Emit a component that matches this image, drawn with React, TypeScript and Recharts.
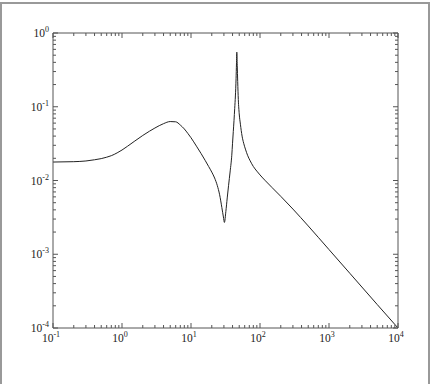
import { LineChart, Line, XAxis, YAxis } from 'recharts'

// frequência (eixo x, log) e amplitude da resposta (eixo y, log)
const freq = [
  0.1, 0.2, 0.3, 0.4, 0.5, 0.6, 0.7, 0.85, 1, 1.2, 1.5, 2, 2.5, 3, 4, 5, 6, 7, 8,
  9, 10, 12, 14, 16, 18, 20, 22, 24, 26, 28, 29.5, 30.5, 32, 33.5, 35, 37, 39, 40,
  41, 42, 43, 44, 45, 45.6, 46.1, 46.8, 47.5, 48.5, 50, 52, 55, 58, 62, 66, 72,
  80, 90, 100, 120, 150, 200, 300, 500, 1000, 2000, 5000, 10000,
]
const amplitude = [
  0.0178, 0.018, 0.0184, 0.0191, 0.0198, 0.0207, 0.0217, 0.0237, 0.0259, 0.0291,
  0.0338, 0.0408, 0.0466, 0.0515, 0.059, 0.063, 0.0625, 0.0565, 0.05, 0.0435,
  0.038, 0.0292, 0.0232, 0.0188, 0.0155, 0.013, 0.0108, 0.0086, 0.0064, 0.0043,
  0.0032, 0.0027, 0.0038, 0.0058, 0.0085, 0.0135, 0.022, 0.032, 0.046, 0.065,
  0.095, 0.14, 0.24, 0.38, 0.55, 0.36, 0.22, 0.125, 0.08, 0.058, 0.04, 0.032,
  0.026, 0.022, 0.0185, 0.0155, 0.0134, 0.0119, 0.0099, 0.008, 0.0061, 0.0041,
  0.00242, 0.001157, 0.000553, 0.000208, 0.0001,
]

const xMajorTicks = [0.1, 1, 10, 100, 1000, 10000]
const yMajorTicks = [0.0001, 0.001, 0.01, 0.1, 1]

const data = freq.map((f, i) => ({ f, a: amplitude[i] }))

// ticks menores 2..9 em cada década
const withMinor = (majors: number[]) => {
  const out: number[] = []
  majors.forEach((m, i) => {
    out.push(m)
    if (i < majors.length - 1) for (let k = 2; k <= 9; k++) out.push(+(m * k).toPrecision(6))
  })
  return out
}
const xTicks = withMinor(xMajorTicks)
const yTicks = withMinor(yMajorTicks)

const isMajor = (v: number) => Math.abs(Math.log10(v) - Math.round(Math.log10(v))) < 1e-6
const AXIS = '#555'
const FONT = 'Liberation Serif, Times New Roman, serif'

function Pow({ x, y, v, anchor }: { x: number; y: number; v: number; anchor: 'middle' | 'end' }) {
  const e = Math.round(Math.log10(v))
  return (
    <text x={x} y={y} textAnchor={anchor} style={{ fontFamily: FONT, fontSize: 11.5 }} fill="#222">
      10<tspan dy={-5} style={{ fontSize: 8 }}>{e}</tspan>
    </text>
  )
}

type TickProps = { x?: number; y?: number; payload?: { value: number } }

function BottomTick({ x = 0, y = 0, payload }: TickProps) {
  const v = payload?.value ?? 1
  const major = isMajor(v)
  return (
    <g>
      <line x1={x} x2={x} y1={y} y2={y - (major ? 5 : 3)} stroke={AXIS} />
      {major && <Pow x={x - 2} y={y + 14} v={v} anchor="middle" />}
    </g>
  )
}

function TopTick({ x = 0, y = 0, payload }: TickProps) {
  const major = isMajor(payload?.value ?? 1)
  return <line x1={x} x2={x} y1={y} y2={y + (major ? 5 : 3)} stroke={AXIS} />
}

function LeftTick({ x = 0, y = 0, payload }: TickProps) {
  const v = payload?.value ?? 1
  const major = isMajor(v)
  return (
    <g>
      <line x1={x} x2={x + (major ? 5 : 3)} y1={y} y2={y} stroke={AXIS} />
      {major && <Pow x={x - 4} y={y + 4} v={v} anchor="end" />}
    </g>
  )
}

function RightTick({ x = 0, y = 0, payload }: TickProps) {
  const major = isMajor(payload?.value ?? 1)
  return <line x1={x} x2={x - (major ? 5 : 3)} y1={y} y2={y} stroke={AXIS} />
}

export default function App() {
  return (
    <div style={{ position: 'fixed', left: 0, top: 0, width: 432, height: 384, background: '#fff', overflow: 'hidden' }}>
      <div
        style={{
          position: 'absolute', left: 0, top: 2, width: 426, height: 400,
          border: '2px solid #999',
        }}
      />
      <LineChart
        width={432}
        height={384}
        data={data}
        margin={{ top: 23, right: 24, bottom: 36, left: 23 }}
        style={{ position: 'absolute', left: 0, top: 0 }}
      >
        <XAxis
          xAxisId="bottom" dataKey="f" type="number" scale="log" domain={[0.1, 10000]}
          allowDataOverflow ticks={xTicks} interval={0} height={20}
          tickSize={0} tickMargin={0} tick={<BottomTick />} axisLine={{ stroke: AXIS }}
        />
        <XAxis
          xAxisId="top" orientation="top" dataKey="f" type="number" scale="log" domain={[0.1, 10000]}
          allowDataOverflow ticks={xTicks} interval={0} height={10}
          tickSize={0} tickMargin={0} tick={<TopTick />} axisLine={{ stroke: AXIS }}
        />
        <YAxis
          yAxisId="left" type="number" scale="log" domain={[0.0001, 1]}
          allowDataOverflow ticks={yTicks} interval={0} width={30}
          tickSize={0} tickMargin={0} tick={<LeftTick />} axisLine={{ stroke: AXIS }}
        />
        <YAxis
          yAxisId="right" orientation="right" type="number" scale="log" domain={[0.0001, 1]}
          allowDataOverflow ticks={yTicks} interval={0} width={10}
          tickSize={0} tickMargin={0} tick={<RightTick />} axisLine={{ stroke: AXIS }}
        />
        <Line
          xAxisId="bottom" yAxisId="left" dataKey="a" type="monotone"
          stroke="#222" strokeWidth={1} dot={false} isAnimationActive={false}
        />
      </LineChart>
    </div>
  )
}
